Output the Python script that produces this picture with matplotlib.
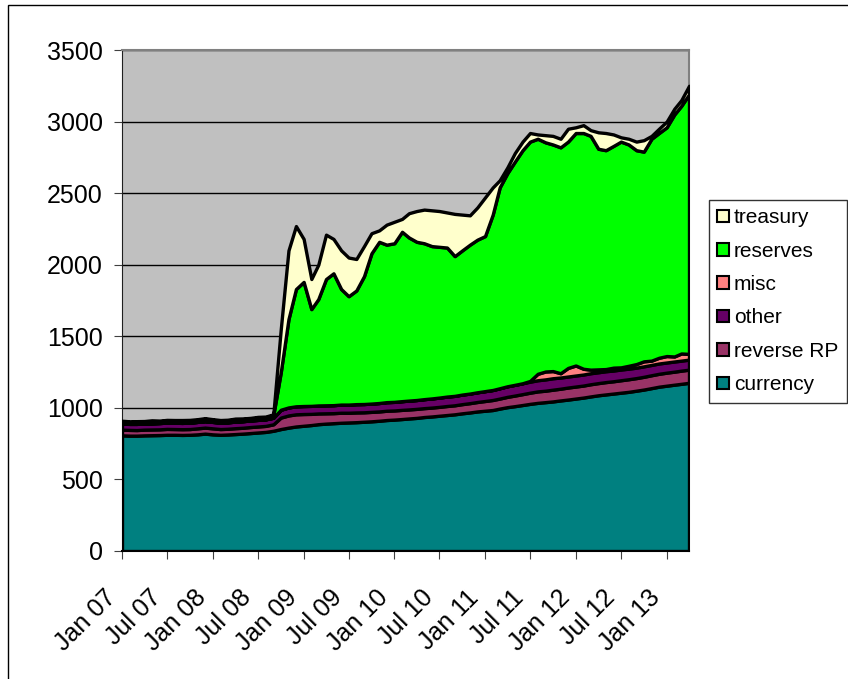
import matplotlib
matplotlib.use('Agg')
import matplotlib.pyplot as plt
import matplotlib.dates as mdates
from matplotlib.patches import Rectangle, Patch
from matplotlib.transforms import ScaledTranslation
import numpy as np
import pandas as pd

plt.rcParams['font.family'] = ['Liberation Sans', 'DejaVu Sans']

# 月度数据, Jan 2007 - Apr 2013 (十亿美元)
dates = pd.date_range('2007-01-01', periods=76, freq='MS')

currency = [808, 806, 806, 808, 809, 810, 812, 812, 811, 812, 815, 820,
            815, 812, 814, 817, 820, 824, 828, 832, 840, 852, 862, 870,
            875, 880, 886, 890, 893, 896, 898, 900, 903, 906, 910, 915,
            918, 922, 926, 930, 936, 940, 945, 950, 955, 962, 968, 975,
            980, 985, 995, 1005, 1012, 1020, 1028, 1035, 1040, 1045, 1052, 1058,
            1065, 1072, 1080, 1088, 1094, 1100, 1106, 1112, 1120, 1128, 1138, 1148,
            1155, 1162, 1168, 1175]
reverse_rp = [40, 40, 39, 40, 40, 40, 41, 40, 40, 40, 42, 42,
              42, 40, 40, 41, 41, 42, 42, 42, 45, 80, 85, 85,
              82, 78, 75, 72, 70, 70, 68, 68, 66, 66, 65, 65,
              64, 64, 63, 63, 62, 62, 62, 63, 63, 64, 65, 66,
              68, 70, 70, 72, 74, 76, 78, 80, 80, 82, 82, 84,
              84, 84, 85, 85, 86, 86, 87, 88, 88, 89, 90, 90,
              91, 91, 92, 92]
other = [42, 42, 43, 43, 43, 44, 44, 44, 44, 45, 45, 45,
         45, 45, 45, 46, 46, 46, 46, 46, 46, 55, 56, 56,
         56, 56, 56, 56, 56, 57, 57, 58, 58, 58, 59, 60,
         60, 61, 62, 62, 63, 64, 65, 66, 66, 67, 67, 68,
         69, 70, 72, 74, 75, 76, 77, 78, 79, 80, 78, 77,
         77, 77, 77, 76, 76, 75, 75, 74, 73, 73, 72, 72,
         71, 71, 70, 70]
misc = [0, 0, 0, 0, 0, 0, 0, 0, 0, 0, 0, 0,
        0, 0, 0, 0, 0, 0, 0, 0, 0, 0, 0, 0,
        0, 0, 0, 0, 0, 0, 0, 0, 0, 0, 0, 0,
        0, 0, 0, 0, 0, 0, 0, 0, 0, 0, 0, 0,
        0, 0, 0, 0, 0, 0, 5, 45, 55, 50, 30, 60,
        70, 40, 25, 20, 15, 20, 15, 20, 25, 35, 30, 40,
        45, 35, 50, 40]
reserves = [15, 12, 14, 13, 15, 12, 14, 13, 15, 14, 13, 16,
            14, 12, 13, 15, 14, 13, 15, 14, 18, 263, 617, 819,
            867, 676, 743, 882, 921, 807, 757, 794, 893, 1050, 1126, 1100,
            1108, 1183, 1139, 1105, 1089, 1064, 1053, 1041, 976, 1007, 1040, 1066,
            1083, 1225, 1403, 1489, 1559, 1628, 1672, 1642, 1601, 1583, 1578, 1581,
            1624, 1647, 1633, 1541, 1529, 1549, 1577, 1546, 1494, 1465, 1550, 1570,
            1598, 1691, 1730, 1813]
treasury = [5, 6, 5, 4, 6, 5, 5, 6, 5, 5, 6, 5,
            5, 6, 5, 6, 5, 5, 6, 5, 6, 300, 480, 440,
            300, 210, 240, 310, 240, 270, 270, 220, 210, 140, 80, 140,
            150, 90, 170, 215, 235, 250, 250, 245, 295, 250, 205, 225,
            270, 190, 50, 40, 60, 60, 60, 30, 50, 60, 60, 90,
            40, 55, 40, 115, 120, 80, 30, 40, 60, 80, 20, 30,
            40, 40, 40, 60]

labels = ['currency', 'reverse RP', 'other', 'misc', 'reserves', 'treasury']
colors = ['#008080', '#993366', '#660066', '#FF8080', '#00FF00', '#FFFFCC']

fig = plt.figure(figsize=(8.48, 6.79), dpi=100)
ax = fig.add_axes([122/848, 1 - 551/679, 567/848, 501/679])
ax.set_facecolor('#C0C0C0')

ax.stackplot(dates, currency, reverse_rp, other, misc, reserves, treasury,
             colors=colors, edgecolor='black', linewidth=2.4, zorder=3)

ax.set_ylim(0, 3500)
ax.set_yticks(np.arange(0, 3501, 500))
ax.set_xlim(dates[0], dates[-1])
ticks = pd.date_range('2007-01-01', '2013-01-01', freq='6MS')
ax.set_xticks(ticks)
ax.xaxis.set_major_formatter(mdates.DateFormatter('%b %y'))

ax.grid(axis='y', color='black', linewidth=1)
ax.grid(axis='x', visible=False)
ax.set_axisbelow(True)

for s in ['top', 'right']:
    ax.spines[s].set_color('#808080')
    ax.spines[s].set_linewidth(1.5)
ax.spines['left'].set_color('#202020')
ax.spines['bottom'].set_color('black')
ax.spines['bottom'].set_linewidth(1.5)

ax.tick_params(axis='both', direction='out', length=6, color='#404040', labelsize=18)
ax.tick_params(axis='y', pad=8)
ax.tick_params(axis='x', pad=25)
off = ScaledTranslation(-10/100, 0, fig.dpi_scale_trans)
for lab in ax.get_xticklabels():
    lab.set_rotation(45)
    lab.set_ha('right')
    lab.set_va('center')
    lab.set_rotation_mode('anchor')
    lab.set_transform(lab.get_transform() + off)

handles = [Patch(facecolor=c, edgecolor='black', linewidth=1.5) for c in colors]
leg = fig.legend(handles[::-1], labels[::-1], loc='upper left',
                 bbox_to_anchor=(709/848, 1 - 200/679), fontsize=15,
                 frameon=True, fancybox=False, edgecolor='black',
                 handlelength=0.55, handleheight=0.55, handletextpad=0.25,
                 labelspacing=0.69, borderpad=0.4, borderaxespad=0)
leg.get_frame().set_linewidth(1)

fig.add_artist(Rectangle((8/848, -0.1), 1.0, 1.1 - 5/679, transform=fig.transFigure,
                         fill=False, edgecolor='black', linewidth=1))

fig.savefig('out.png', dpi=100)
